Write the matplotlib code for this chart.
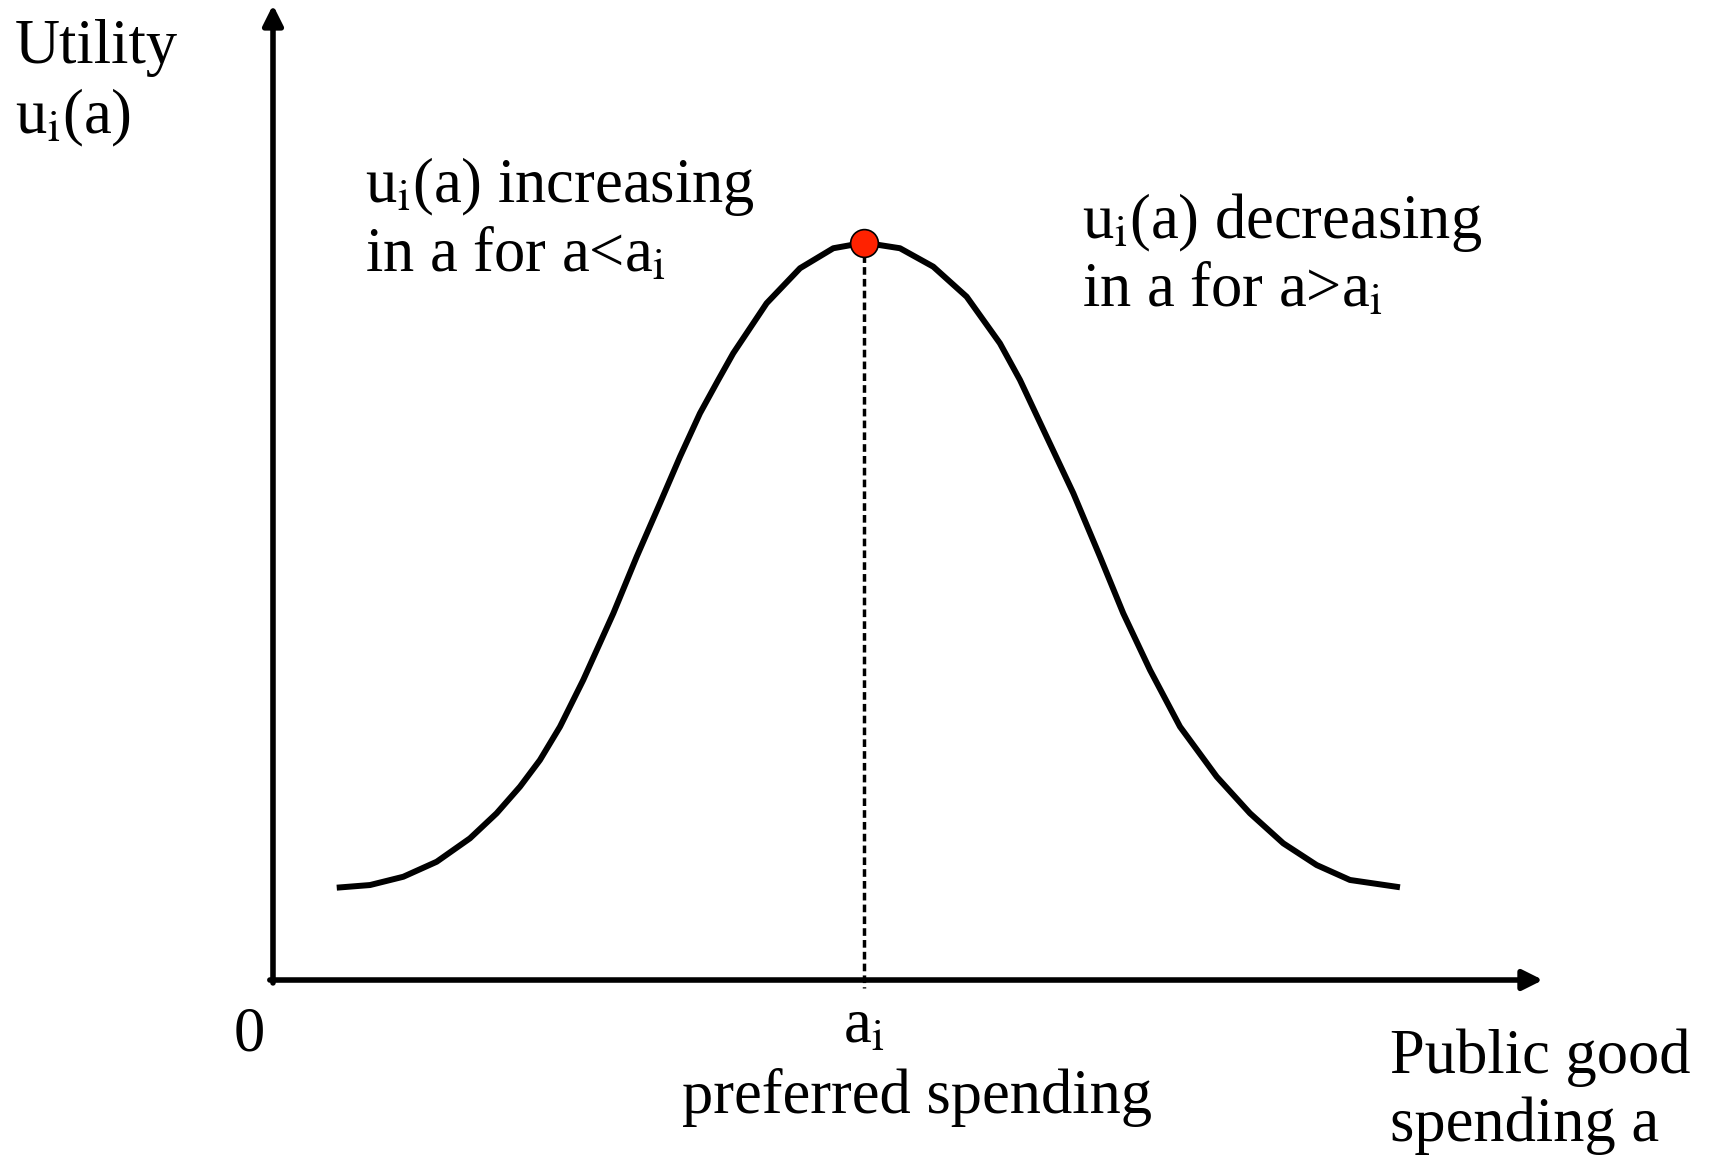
import matplotlib.pyplot as plt

# Utility curve u_i(a) (a on 0..10, u on 0..10)
a_vals = [0.502, 0.764, 1.026, 1.289, 1.551, 1.761, 1.945, 2.102, 2.260, 2.443,
          2.680, 2.864, 3.047, 3.205, 3.362, 3.506, 3.624, 3.887, 4.150, 4.412,
          4.656, 4.937, 5.199, 5.462, 5.724, 5.882, 6.092, 6.302, 6.512, 6.695,
          6.906, 7.142, 7.431, 7.693, 7.955, 8.218, 8.480, 8.874]
u_vals = [0.947, 0.974, 1.059, 1.213, 1.453, 1.710, 1.983, 2.256, 2.598, 3.077,
          3.761, 4.342, 4.889, 5.367, 5.812, 6.154, 6.428, 6.941, 7.300, 7.505,
          7.562, 7.505, 7.316, 7.008, 6.530, 6.154, 5.572, 4.992, 4.342, 3.761,
          3.179, 2.598, 2.085, 1.710, 1.402, 1.179, 1.026, 0.951]

# Preferred spending (peak)
a_pref = 4.656
u_pref = 7.562

plt.rcParams['font.family'] = ['Liberation Serif', 'DejaVu Serif']
plt.rcParams['mathtext.fontset'] = 'stix'

fig = plt.figure(figsize=(17.12, 11.6), dpi=100)
ax = fig.add_axes([0, 0, 1, 1])
ax.set_xlim(-2.1496, 11.331)
ax.set_ylim(-1.846, 10.051)
ax.axis('off')

# Axes with arrows
arrow = dict(arrowstyle='-|>,head_length=0.6,head_width=0.3', lw=4, color='black',
             mutation_scale=20, shrinkA=0, shrinkB=0)
ax.annotate('', xy=(10.0, 0), xytext=(-0.025, 0), arrowprops=arrow)
ax.annotate('', xy=(0, 10.0), xytext=(0, -0.03), arrowprops=arrow)

# Curve
ax.plot(a_vals, u_vals, color='black', lw=4.3, solid_capstyle='butt',
        solid_joinstyle='round', zorder=3)

# Dashed line to the preferred spending and the peak point
ax.plot([a_pref, a_pref], [u_pref, -0.08], color='black', lw=2.5, dashes=(2.2, 1.2), zorder=2)
ax.plot([a_pref], [u_pref], 'o', markersize=20, markerfacecolor='#ff2200',
        markeredgecolor='black', markeredgewidth=1.2, zorder=4)

fs = 45
sub = r'$_{\mathrm{i}}$'
ax.text(-2.031, 9.405, 'Utility', fontsize=fs, ha='left', va='baseline')
ax.text(-2.031, 8.687, 'u' + sub + '(a)', fontsize=fs, ha='left', va='baseline')

ax.text(0.724, 7.979, 'u' + sub + '(a) increasing', fontsize=fs, ha='left', va='baseline')
ax.text(0.724, 7.262, 'in a for a<a' + sub, fontsize=fs, ha='left', va='baseline')

ax.text(6.370, 7.610, 'u' + sub + '(a) decreasing', fontsize=fs, ha='left', va='baseline')
ax.text(6.370, 6.903, 'in a for a>a' + sub, fontsize=fs, ha='left', va='baseline')

ax.text(-0.189, -0.718, '0', fontsize=fs, ha='center', va='baseline')
ax.text(a_pref, -0.646, 'a' + sub, fontsize=fs, ha='center', va='baseline')
ax.text(5.07, -1.364, 'preferred spending', fontsize=fs, ha='center', va='baseline')

ax.text(8.795, -0.954, 'Public good', fontsize=fs, ha='left', va='baseline')
ax.text(8.795, -1.651, 'spending a', fontsize=fs, ha='left', va='baseline')

fig.savefig('out.png', dpi=100)
